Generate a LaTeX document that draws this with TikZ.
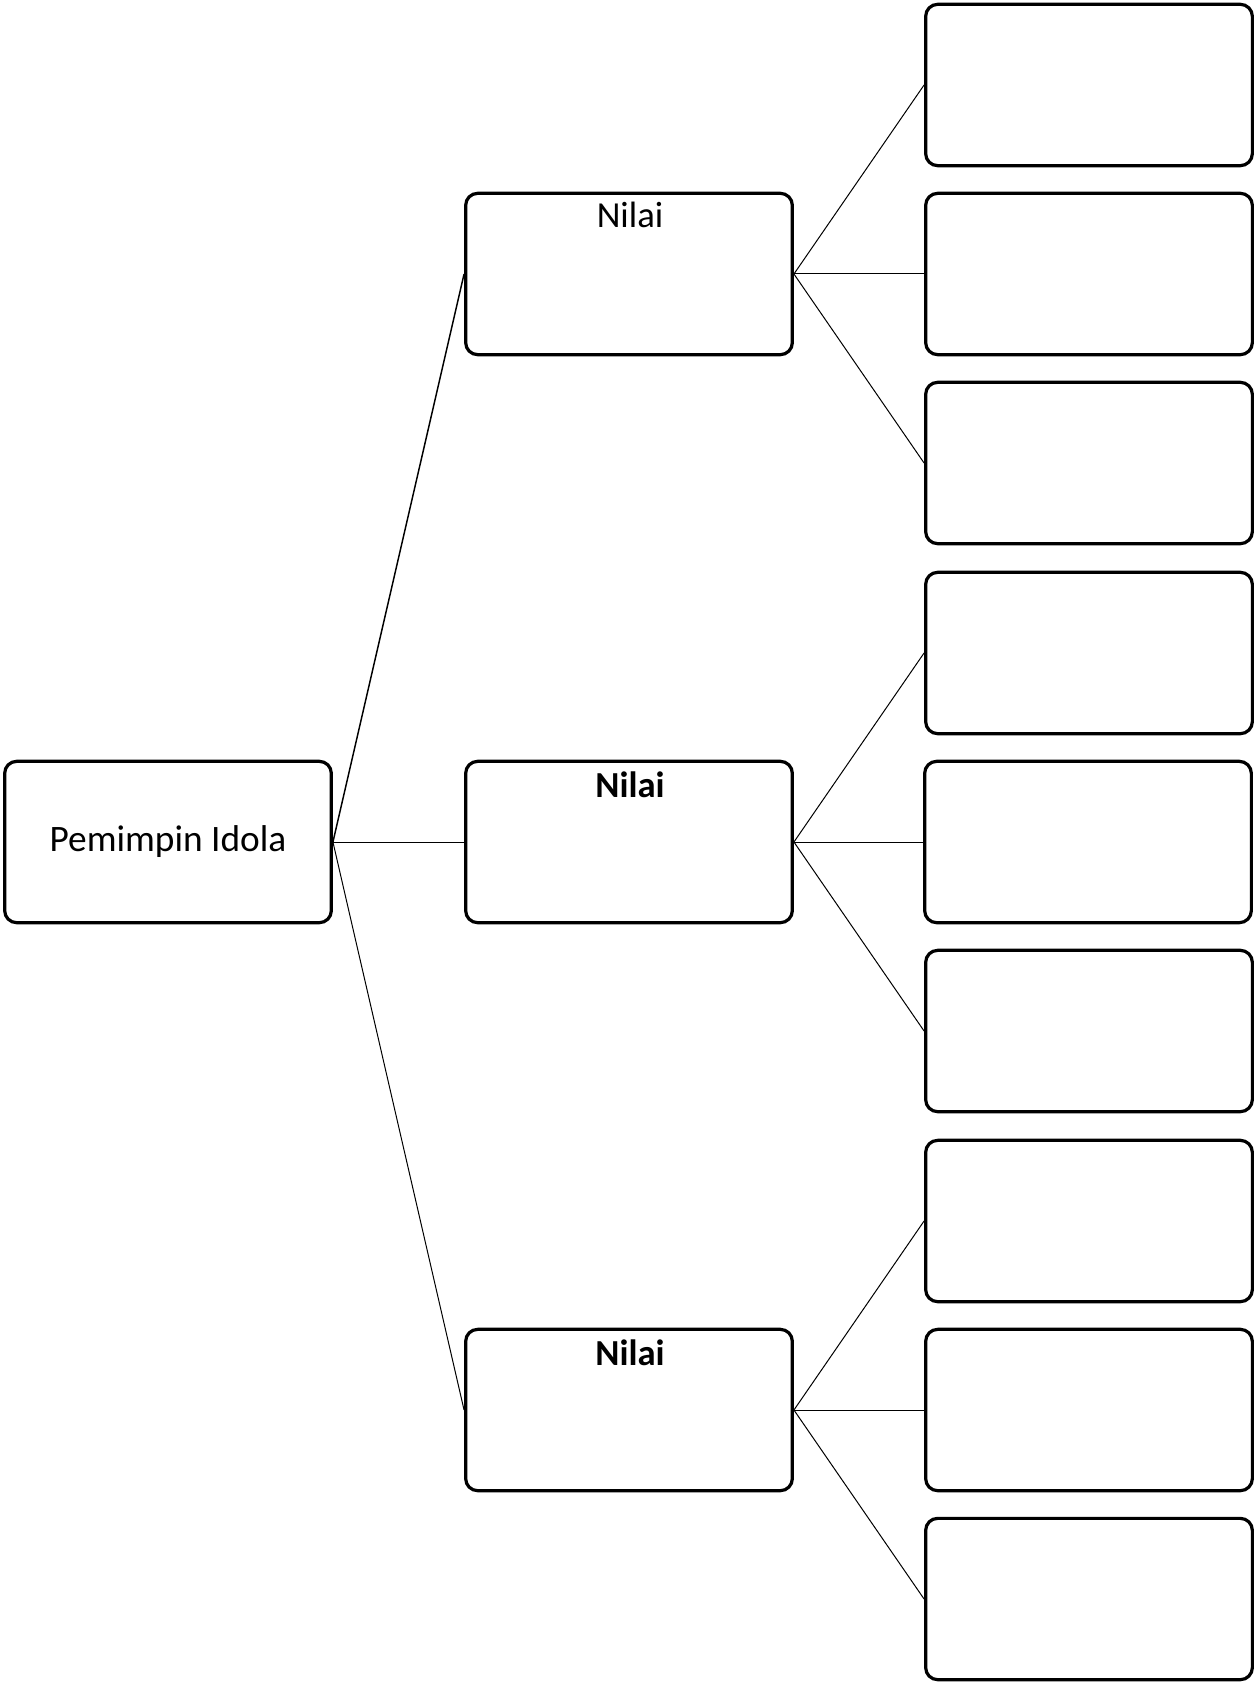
\documentclass[tikz,border=0pt]{standalone}
\usepackage{fontspec}
\setmainfont{Carlito}

\tikzset{
  box/.style={draw, line width=2.4pt, rounded corners=9pt, minimum width=245pt, minimum height=121pt, inner sep=0pt},
  link/.style={line width=0.75pt},
  lbl/.style={font=\fontsize{27.5}{33}\selectfont, inner sep=0pt}
}

\begin{document}
\begin{tikzpicture}[x=0.75pt,y=0.75pt,yscale=-1]
\useasboundingbox (0,0) rectangle (1255,1683);

%Shape: Rounded Rect [root]
\node[box, lbl, font=\fontsize{28}{34}\selectfont] (idola) at (168,842) {Pemimpin Idola};

%Shape: Rounded Rect [middle]
\node[box] (nilai1) at (629,274) {};
\node[box] (nilai2) at (629,842) {};
\node[box] (nilai3) at (629,1410) {};

%Shape: Rounded Rect [right]
\node[box] (isi11) at (1089,85) {};
\node[box] (isi12) at (1089,274) {};
\node[box] (isi13) at (1089,463) {};
\node[box] (isi21) at (1089,653) {};
\node[box] (isi22) at (1088,842) {};
\node[box] (isi23) at (1089,1031) {};
\node[box] (isi31) at (1089,1221) {};
\node[box] (isi32) at (1089,1410) {};
\node[box] (isi33) at (1089,1599) {};

% Text Node
\node[lbl, anchor=base] (teks1) at (630,228) {Nilai};
% Text Node
\node[lbl, anchor=base] (teks2) at (630,797) {\bfseries Nilai};
% Text Node
\node[lbl, anchor=base] (teks3) at (630,1365) {\bfseries Nilai};

%Straight Lines
\draw[link, line width=1.1pt] (idola.east) -- (nilai1.west);
\draw[link] (idola.east) -- (nilai2.west);
\draw[link] (idola.east) -- (nilai3.west);

%Straight Lines
\draw[link] (nilai1.east) -- (isi11.west);
\draw[link] (nilai1.east) -- (isi12.west);
\draw[link] (nilai1.east) -- (isi13.west);
\draw[link] (nilai2.east) -- (isi21.west);
\draw[link] (nilai2.east) -- (isi22.west);
\draw[link] (nilai2.east) -- (isi23.west);
\draw[link] (nilai3.east) -- (isi31.west);
\draw[link] (nilai3.east) -- (isi32.west);
\draw[link] (nilai3.east) -- (isi33.west);

\end{tikzpicture}
\end{document}
